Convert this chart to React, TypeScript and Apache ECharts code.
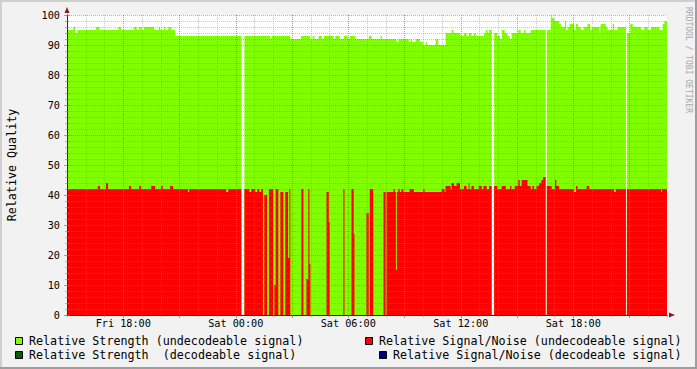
import React, { useEffect, useRef } from 'react';
import * as echarts from 'echarts';

// hours since Fri 15:00, span of the graph
const spanHours = 32;
const xTickHours = [3, 9, 15, 21, 27];
const xTickLabels = ['Fri 18:00', 'Sat 00:00', 'Sat 06:00', 'Sat 12:00', 'Sat 18:00'];

const legendLabels = [
  'Relative Strength (undecodeable signal)',
  'Relative Strength  (decodeable signal)',
  'Relative Signal/Noise (undecodeable signal)',
  'Relative Signal/Noise (decodeable signal)',
];

// [start hour, value] – value holds until the next start; null = no data
const strengthSteps: [number, number | null][] = [
  [0, 95], [0.34, 96], [0.43, 94], [0.55, 95], [1.55, 96], [1.73, 95], [2.74, 96], [2.88, 95],
  [3.58, 96], [3.72, 95], [3.85, 96], [3.99, 95], [4.11, 96], [4.65, 95], [4.9, 96], [4.97, 95],
  [5.18, 96], [5.25, 95], [5.4, 96], [5.56, 95], [5.77, 93], [9.3, null], [9.46, 93], [10.85, 92],
  [10.93, 93], [11.91, 92], [12.48, 93], [12.98, 92], [13.1, 93], [13.19, 92], [13.42, 93], [13.6, 92],
  [13.69, 93], [14.22, 92], [14.31, 93], [14.54, 92], [14.76, 93], [14.97, 92], [15.08, 93], [15.38, 92],
  [16.1, 93], [16.24, 92], [16.72, 93], [16.79, 92], [17.57, 91], [17.68, 92], [18.23, 91], [18.32, 92],
  [18.41, 91], [18.59, 92], [18.82, 91], [19.0, 90], [19.14, 91], [19.21, 90], [19.66, 92], [19.8, 90],
  [20.19, 94], [20.51, 95], [20.62, 94], [20.99, 93], [21.17, 94], [21.31, 93], [21.44, 94], [21.58, 93],
  [21.71, 94], [21.8, 93], [22.24, 94], [22.33, 95], [22.42, 94], [22.51, 95], [22.65, null], [22.78, 94],
  [22.95, 93], [23.09, 92], [23.2, 95], [23.34, 94], [23.49, 93], [23.61, 92], [23.72, 94], [24.07, 95],
  [24.2, 94], [24.37, 95], [24.46, 94], [24.73, 95], [25.53, null], [25.59, 95], [25.8, 100], [25.85, 99],
  [25.98, 98], [26.25, 97], [26.34, 96], [26.55, 98], [26.62, 95], [26.7, 96], [26.8, 97], [27.05, 95],
  [27.14, 97], [27.26, 96], [27.4, 95], [27.55, 96], [27.76, 97], [27.9, 95], [28.01, 96], [28.4, 94],
  [28.44, 96], [28.47, 97], [28.74, 96], [28.83, 95], [29.1, 97], [29.18, 95], [29.36, 96], [29.81, null],
  [29.86, 94], [30.04, 97], [30.17, 96], [30.61, 95], [30.79, 96], [30.97, 95], [31.15, 96], [31.59, 95],
  [31.77, 97], [31.86, 98],
];

const snrSteps: [number, number | null][] = [
  [0, 42], [1.64, 43], [1.76, 42], [2.08, 44], [2.19, 42], [3.31, 43], [3.42, 42], [3.85, 43],
  [3.95, 42], [4.49, 43], [4.7, 42], [5.02, 43], [5.11, 42], [5.5, 43], [5.66, 42], [6.46, 41],
  [6.52, 42], [8.49, 41], [8.6, 42], [9.3, null], [9.46, 42], [9.72, 41], [9.83, 42], [10.04, 41],
  [10.15, 42], [10.26, 41], [10.36, 42], [10.45, 0], [10.52, 40], [10.67, 0], [10.77, 42], [10.99, 0],
  [11.06, 10], [11.13, 42], [11.27, 0], [11.38, 41], [11.54, 0], [11.64, 41], [11.79, 19], [11.86, 42],
  [11.91, 0], [12.5, 42], [12.61, 0], [12.77, 12], [12.87, 42], [12.93, 17], [12.98, 0], [13.84, 41],
  [13.96, 31], [14.01, 0], [14.74, 42], [14.8, 0], [15.17, 42], [15.29, 27], [15.33, 0], [15.97, 34],
  [16.09, 0], [16.15, 42], [16.33, 0], [16.88, 41], [16.99, 0], [17.04, 41], [17.41, 42], [17.48, 41],
  [17.54, 15], [17.59, 41], [17.67, 42], [17.75, 41], [17.83, 42], [17.93, 41], [18.27, 42], [18.5, 41],
  [19.0, 42], [19.07, 41], [19.98, 42], [20.14, 41], [20.19, 43], [20.46, 42], [20.51, 44], [20.64, 43],
  [20.78, 44], [20.96, 42], [21.17, 43], [21.31, 42], [21.42, 44], [21.47, 42], [21.57, 43], [21.7, 42],
  [21.96, 43], [22.12, 42], [22.21, 43], [22.38, 42], [22.51, 43], [22.65, null], [22.78, 43], [22.95, 42],
  [23.18, 43], [23.4, 42], [23.63, 43], [23.7, 42], [23.88, 43], [24.07, 45], [24.15, 43], [24.25, 45],
  [24.56, 43], [24.73, 42], [24.82, 43], [24.91, 42], [25.04, 43], [25.18, 44], [25.3, 45], [25.39, 46],
  [25.53, null], [25.59, 43], [25.85, 42], [26.03, 45], [26.1, 43], [26.25, 42], [27.05, 41], [27.15, 43],
  [27.23, 42], [27.72, 43], [27.85, 42], [29.18, 41], [29.27, 42], [29.81, null], [29.86, 42], [31.68, 41],
  [31.73, 42],
];

const decodeStrengthSteps: [number, number | null][] = [];
const decodeSnrSteps: [number, number | null][] = [];

const GREEN = '#7FFF00';
const RED = '#FF0000';
const DARKGREEN = '#006400';
const BLUE = '#000080';
const BACK = '#F2F2F2';
const GRID = 'rgba(130,130,130,0.45)';
const MGRID = 'rgba(222,79,79,0.55)';
const AXIS = '#2a2a3a';
const ARROW = '#801F1F';
const MONO = '"DejaVu Sans Mono", monospace';

function toArea(steps: [number, number | null][]) {
  const pts: (number | null)[][] = [];
  steps.forEach(([t, v], i) => {
    const t1 = i + 1 < steps.length ? steps[i + 1][0] : spanHours;
    if (v === null) pts.push([t, null]);
    else pts.push([t, v], [t1, v]);
  });
  return pts;
}

function areaSeries(name: string, steps: [number, number | null][], color: string) {
  return {
    name,
    type: 'line',
    xAxisIndex: 0,
    yAxisIndex: 0,
    data: toArea(steps),
    symbol: 'none',
    showSymbol: false,
    silent: true,
    z: 2,
    lineStyle: { width: 0, color },
    itemStyle: { color },
    areaStyle: { color, opacity: 1 },
  };
}

export default function App() {
  const ref = useRef<HTMLDivElement>(null);
  useEffect(() => {
    if (!ref.current) return;
    const chart = echarts.init(ref.current, null, { renderer: 'svg' });
    const legendGraphics: any[] = [];
    const legendRows = [
      { sq: [15, 337], tx: [29, 341], color: GREEN, label: legendLabels[0] },
      { sq: [15, 351], tx: [29, 355], color: DARKGREEN, label: legendLabels[1] },
      { sq: [365, 337], tx: [379, 341], color: RED, label: legendLabels[2] },
      { sq: [379, 351], tx: [393, 355], color: BLUE, label: legendLabels[3] },
    ];
    legendRows.forEach((r) => {
      legendGraphics.push({
        type: 'rect',
        shape: { x: r.sq[0] + 0.5, y: r.sq[1] + 0.5, width: 7, height: 7 },
        style: { fill: r.color, stroke: '#000', lineWidth: 1 },
      });
      legendGraphics.push({
        type: 'text',
        x: r.tx[0],
        y: r.tx[1],
        style: {
          text: r.label,
          font: `11.7px ${MONO}`,
          fill: '#000',
          align: 'left',
          verticalAlign: 'middle',
        },
      });
    });

    chart.setOption({
      animation: false,
      backgroundColor: BACK,
      grid: { left: 67, right: 30, top: 15, bottom: 54, show: true, backgroundColor: '#FFFFFF', borderWidth: 0 },
      xAxis: [
        {
          type: 'value', min: 0, max: spanHours, interval: 1, position: 'bottom', z: 6,
          axisLine: { show: true, onZero: false, lineStyle: { color: AXIS, width: 1 } },
          axisTick: { show: true, length: 2, lineStyle: { color: 'rgba(130,130,130,0.6)' } },
          axisLabel: { show: false },
          splitLine: { show: true, showMaxLine: false, lineStyle: { color: GRID, type: [1, 1], width: 1 } },
        },
        {
          type: 'value', min: 0, max: spanHours, interval: 3, position: 'bottom', z: 5,
          axisLine: {
            show: true, onZero: false, symbol: ['none', 'triangle'], symbolSize: [5, 6], symbolOffset: [0, 5],
            lineStyle: { color: ARROW, width: 1 },
          },
          axisTick: { show: true, length: 3, lineStyle: { color: 'rgba(222,79,79,0.7)' } },
          axisLabel: {
            show: true, margin: 3, fontFamily: MONO, fontSize: 10.2, color: '#000',
            showMinLabel: false, showMaxLabel: false,
            formatter: (v: number) => {
              const i = xTickHours.indexOf(v);
              return i >= 0 ? xTickLabels[i] : '';
            },
          },
          splitLine: { show: true, showMaxLine: false, lineStyle: { color: MGRID, type: [1, 1], width: 1 } },
        },
      ],
      yAxis: [
        {
          type: 'value', min: 0, max: 100, interval: 10, position: 'left', z: 6,
          axisLine: { show: true, onZero: false, lineStyle: { color: AXIS, width: 1 } },
          axisTick: { show: true, length: 3, lineStyle: { color: 'rgba(222,79,79,0.7)' } },
          minorTick: { show: true, splitNumber: 5, length: 2, lineStyle: { color: 'rgba(130,130,130,0.6)' } },
          axisLabel: { margin: 7, fontFamily: MONO, fontSize: 10.2, color: '#000' },
          splitLine: { show: true, lineStyle: { color: MGRID, type: [1, 1], width: 1 } },
          minorSplitLine: { show: true, lineStyle: { color: GRID, type: [1, 1], width: 1 } },
        },
        {
          type: 'value', min: 0, max: 100, interval: 10, position: 'right', z: 6,
          axisLine: { show: false },
          axisTick: { show: true, length: 3, lineStyle: { color: 'rgba(222,79,79,0.7)' } },
          minorTick: { show: true, splitNumber: 5, length: 2, lineStyle: { color: 'rgba(130,130,130,0.6)' } },
          axisLabel: { show: false },
          splitLine: { show: false },
        },
        {
          type: 'value', min: 0, max: 100, interval: 10, position: 'left', z: 5,
          axisLine: {
            show: true, onZero: false, symbol: ['none', 'triangle'], symbolSize: [5, 6], symbolOffset: [0, 5],
            lineStyle: { color: ARROW, width: 1 },
          },
          axisTick: { show: false },
          axisLabel: { show: false },
          splitLine: { show: false },
        },
      ],
      series: [
        areaSeries(legendLabels[0], strengthSteps, GREEN),
        areaSeries(legendLabels[1], decodeStrengthSteps, DARKGREEN),
        areaSeries(legendLabels[2], snrSteps, RED),
        areaSeries(legendLabels[3], decodeSnrSteps, BLUE),
      ],
      graphic: [
        { type: 'rect', shape: { x: 0, y: 0, width: 697, height: 2 }, style: { fill: '#CFCFCF' } },
        { type: 'rect', shape: { x: 0, y: 0, width: 2, height: 369 }, style: { fill: '#CFCFCF' } },
        { type: 'rect', shape: { x: 0, y: 367, width: 697, height: 2 }, style: { fill: '#9E9E9E' } },
        { type: 'rect', shape: { x: 695, y: 0, width: 2, height: 369 }, style: { fill: '#9E9E9E' } },
        {
          type: 'text', x: 11.5, y: 165, rotation: Math.PI / 2,
          style: { text: 'Relative Quality', font: `11.7px ${MONO}`, fill: '#000', align: 'center', verticalAlign: 'middle' },
        },
        {
          type: 'text', x: 688.5, y: 60, rotation: -Math.PI / 2,
          style: { text: 'RRDTOOL / TOBI OETIKER', font: `8px ${MONO}`, fill: '#A8A8A8', align: 'center', verticalAlign: 'middle' },
        },
        ...legendGraphics,
      ],
    });
    return () => chart.dispose();
  }, []);
  return <div ref={ref} style={{ position: 'fixed', left: 0, top: 0, width: 697, height: 369 }} />;
}
